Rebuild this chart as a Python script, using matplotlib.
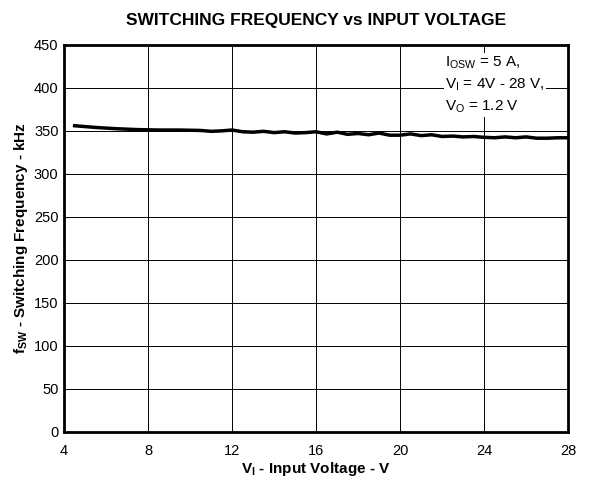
import numpy as np
import matplotlib.pyplot as plt

# input voltage (V) and switching frequency (kHz)
v_in = [4.5, 5.5, 6.5, 7.5, 8.5, 9.5, 10.5, 11.0, 11.5, 12.0, 12.5, 13.0, 13.5, 14.0,
        14.5, 15.0, 15.5, 16.0, 16.5, 17.0, 17.5, 18.0, 18.5, 19.0, 19.5, 20.0,
        20.5, 21.0, 21.5, 22.0, 22.5, 23.0, 23.5, 24.0, 24.5, 25.0, 25.5, 26.0,
        26.5, 27.0, 27.5, 28.0]
f_sw = [356, 354, 352.5, 351.5, 351, 351, 350.5, 349.5, 350, 351, 349, 348.5, 349.5, 348,
        349, 347.5, 348, 349, 346.5, 348.5, 346, 347, 345.5, 347.5, 345, 345,
        346.5, 344.5, 345.5, 343.5, 344, 343, 343.5, 342.5, 342, 343, 342, 343,
        341.5, 341.5, 342, 342]

x_ticks = [4, 8, 12, 16, 20, 24, 28]
y_ticks = [0, 50, 100, 150, 200, 250, 300, 350, 400, 450]

plt.rcParams['font.family'] = ['Liberation Sans', 'DejaVu Sans']

fig = plt.figure(figsize=(6.05, 4.83), dpi=100)
ax = fig.add_axes([0.106, 0.106, 0.833, 0.801])

ax.plot(v_in, f_sw, color='black', linewidth=2.5, zorder=3)

ax.set_xlim(4, 28)
ax.set_ylim(0, 450)
ax.set_xticks(x_ticks)
ax.set_yticks(y_ticks)
ax.tick_params(length=0, labelsize=10.5)
ax.tick_params(axis='x', pad=9)
ax.tick_params(axis='y', pad=4)
ax.grid(True, color='black', linewidth=0.7)
for s in ax.spines.values():
    s.set_linewidth(2)

ax.set_xlabel(r'V$_\mathregular{I}$ - Input Voltage - V', fontsize=11, fontweight='bold', labelpad=1)
ax.set_ylabel(r'f$_\mathregular{SW}$ - Switching Frequency - kHz', fontsize=11, fontweight='bold', labelpad=3)
ax.set_title('SWITCHING FREQUENCY vs INPUT VOLTAGE', fontsize=12.5, fontweight='bold', pad=14)

ax.text(22.15, 439, 'I$_\\mathregular{OSW}$ = 5 A,\nV$_\\mathregular{I}$ = 4V - 28 V,\nV$_\\mathregular{O}$ = 1.2 V',
        fontsize=11, va='top', ha='left', linespacing=1.45,
        bbox=dict(facecolor='white', edgecolor='none', pad=1), zorder=4)

fig.savefig('out.png', dpi=100)
